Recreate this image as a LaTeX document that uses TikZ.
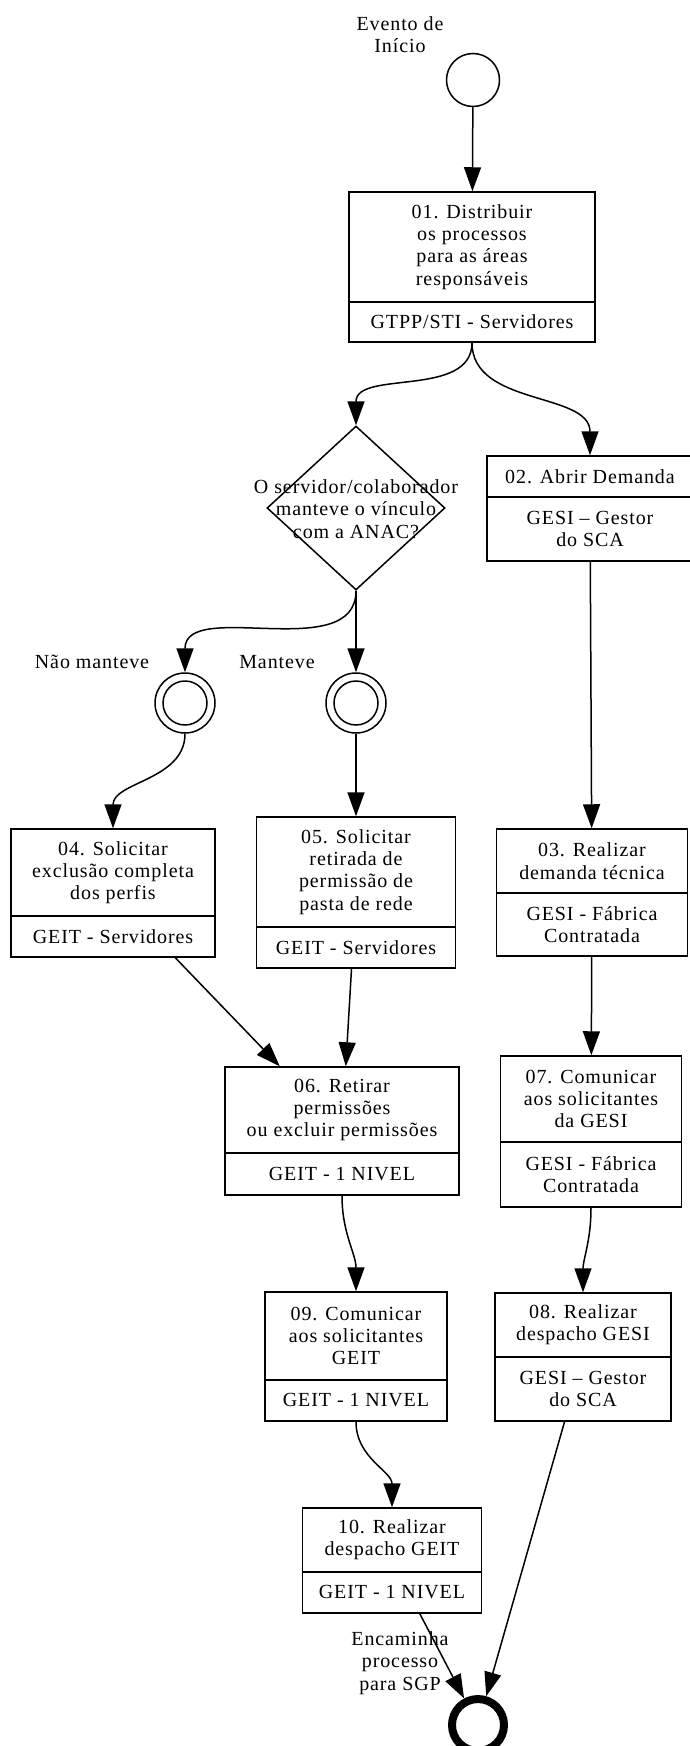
\documentclass[tikz,border=0pt]{standalone}
\usepackage{fontspec}
\setmainfont{Liberation Serif}[LetterSpace=4.5]
\usetikzlibrary{arrows.meta, shapes.geometric, calc}

\tikzset{
  caixa/.style={draw, line width=1.5pt, inner sep=0pt},
  texto/.style={align=center, inner sep=0pt, font=\fontsize{20}{22.3}\selectfont},
  seta/.style={line width=1.5pt, -{Triangle[length=24pt, width=17pt]}},
  losango/.style={diamond, draw, line width=1.5pt, inner sep=0pt},
  inicio/.style={circle, draw, line width=1.5pt, inner sep=0pt, minimum size=53pt},
  intermed/.style={circle, draw, line width=1.5pt, inner sep=0pt, minimum size=60pt,
    path picture={\draw[line width=1.5pt] (path picture bounding box.center) circle (22pt);}},
  fim/.style={circle, draw, line width=8pt, inner sep=0pt, minimum size=52pt}
}

% name, x, width, top, divider, bottom, task, role
\newcommand{\tarefa}[8]{%
  \node[caixa, minimum width=#3pt, minimum height={(#6-#4)*1pt}] (#1) at (#2,{-(#4+#6)/2}) {};
  \draw[line width=1.5pt] ({#2-#3/2},-#5) -- ({#2+#3/2},-#5);
  \node[texto] (#1-a) at (#2,{-(#4+#5)/2}) {#7};
  \node[texto] (#1-b) at (#2,{-(#5+#6)/2}) {#8};
}

\begin{document}
\begin{tikzpicture}[x=1pt, y=1pt]
	\useasboundingbox (0,0) rectangle (689,-1746);

	\node[inicio] (ini) at (473,-80) {};
	\node[texto] (ini-l) at (400,-35) {Evento de\\Início};

	\tarefa{b01}{472}{246}{192}{302}{342}{01. Distribuir\\os processos\\para as áreas\\responsáveis}{GTPP/STI - Servidores}
	\tarefa{b02}{590}{206}{456}{497}{561}{02. Abrir Demanda}{GESI – Gestor\\do SCA}
	\tarefa{b03}{592}{191}{829}{893}{956}{03. Realizar\\demanda técnica}{GESI - Fábrica\\Contratada}
	\tarefa{b04}{113}{204}{829}{916}{957}{04. Solicitar\\exclusão completa\\dos perfis}{GEIT - Servidores}
	\tarefa{b05}{356}{199}{817}{927}{968}{05. Solicitar\\retirada de\\permissão de\\pasta de rede}{GEIT - Servidores}
	\tarefa{b06}{342}{234}{1067}{1153}{1195}{06. Retirar\\permissões\\ou excluir permissões}{GEIT - 1 NIVEL}
	\tarefa{b07}{591}{181}{1056}{1142}{1207}{07. Comunicar\\aos solicitantes\\da GESI}{GESI - Fábrica\\Contratada}
	\tarefa{b08}{583}{176}{1293}{1357}{1421}{08. Realizar\\despacho GESI}{GESI – Gestor\\do SCA}
	\tarefa{b09}{356}{182}{1292}{1380}{1421}{09. Comunicar\\aos solicitantes\\GEIT}{GEIT - 1 NIVEL}
	\tarefa{b10}{392}{179}{1508}{1572}{1613}{10. Realizar\\despacho GEIT}{GEIT - 1 NIVEL}

	% gateway
	\node[losango, minimum width=178pt, minimum height=164pt] (gw) at (356,-508) {};
	\node[texto] (gw-t) at (356,-509) {O servidor/colaborador\\manteve o vínculo\\com a ANAC?};

	\node[intermed] (e1) at (185,-703) {};
	\node[intermed] (e2) at (356,-703) {};
	\node[texto] (nao) at (92,-662) {Não manteve};
	\node[texto] (sim) at (277,-662) {Manteve};

	\node[fim] (end) at (478,-1725) {};
	\node[texto] (enc) at (400,-1663) {Encaminha\\processo\\para SGP};

	\draw [seta] (ini) -- (b01);
	\draw [seta] (b01.south) to[out=-90, in=90] (gw.north);
	\draw [seta] (b01.south) to[out=-90, in=90] (b02.north);
	\draw [seta] (gw.south) to[out=-90, in=90] (e1.north);
	\draw [seta] (gw) -- (e2);
	\draw [seta] (e1.south) to[out=-90, in=90] (b04.north);
	\draw [seta] (e2) -- (b05);
	\draw [seta] (b02) -- (b03);
	\draw [seta] (b04) -- (b06);
	\draw [seta] (b05) -- (b06);
	\draw [seta] (b03) -- (b07);
	\draw [seta] (b06.south) to[out=-90, in=90] (b09.north);
	\draw [seta] (b07.south) to[out=-90, in=90] (b08.north);
	\draw [seta] (b09.south) to[out=-90, in=90] (b10.north);
	\draw [seta] (b10) -- (end);
	\draw [seta] (b08) -- (end);
\end{tikzpicture}
\end{document}
